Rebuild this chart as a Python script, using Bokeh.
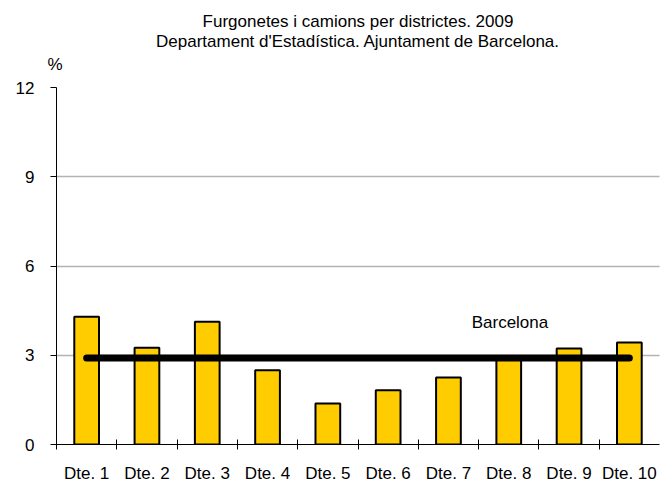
from bokeh.plotting import figure
from bokeh.models import Range1d, FixedTicker, CustomJSTickFormatter, Label, Title
from bokeh.embed import file_html
from bokeh.resources import INLINE

categories = ["Dte. 1", "Dte. 2", "Dte. 3", "Dte. 4", "Dte. 5",
              "Dte. 6", "Dte. 7", "Dte. 8", "Dte. 9", "Dte. 10"]
values = [4.29, 3.25, 4.13, 2.50, 1.38, 1.82, 2.25, 2.93, 3.23, 3.43]
barcelona = 2.91
y_ticks = [0, 3, 6, 9, 12]
title_lines = ["Furgonetes i camions per districtes. 2009",
               "Departament d'Estadística. Ajuntament de Barcelona."]

FONT = "Liberation Sans"
FS = "17px"

n = len(categories)
centers = [i + 0.5 for i in range(n)]

p = figure(width=660, height=486, output_backend="svg", toolbar_location=None,
           x_range=Range1d(0, n), y_range=Range1d(0, 12),
           min_border_left=56, min_border_right=1, min_border_top=87,
           min_border_bottom=42)
p.outline_line_color = None
p.background_fill_color = "white"
p.border_fill_color = "white"

# main title (outermost): first title line
p.title.text = title_lines[0]
p.title.align = "center"
p.title.offset = -8
p.title.text_font = FONT
p.title.text_font_size = FS
p.title.text_font_style = "normal"
p.title.text_color = "black"
p.title.standoff = 18
# closest to frame: "%" ; then the second title line
p.add_layout(Title(text="%", align="left", offset=-9, text_font=FONT,
                   text_font_size=FS, text_font_style="normal",
                   text_color="black", standoff=27), "above")
p.add_layout(Title(text=title_lines[1], align="center", text_font=FONT,
                   text_font_size=FS, text_font_style="normal",
                   text_color="black", standoff=-23), "above")

# grid
p.xgrid.visible = False
p.ygrid.ticker = FixedTicker(ticks=[t for t in y_ticks if t > 0])
p.ygrid.grid_line_color = "#666666"
p.ygrid.grid_line_dash = "1 1"
p.ygrid.grid_line_width = 1.5

# bars
p.vbar(x=centers, top=values, width=0.41, bottom=0,
       fill_color="#FFCC00", line_color="black", line_width=2)

# Barcelona line
p.line(x=[centers[0], centers[-1]], y=[barcelona, barcelona],
       line_color="black", line_width=7, line_cap="round")

p.add_layout(Label(x=7.52, y=4.11, text="Barcelona", text_font=FONT,
                   text_font_size=FS, text_align="center",
                   text_baseline="middle", text_color="black"))

# y axis
yax = p.yaxis[0]
yax.ticker = FixedTicker(ticks=y_ticks)
yax.axis_line_color = "black"
yax.major_tick_line_color = "black"
yax.major_tick_out = 6
yax.major_tick_in = 0
yax.minor_tick_line_color = None
yax.major_label_standoff = 16
yax.major_label_text_font = FONT
yax.major_label_text_font_size = FS
yax.major_label_text_color = "black"

# x axis
xax = p.xaxis[0]
xax.ticker = FixedTicker(ticks=centers, minor_ticks=list(range(n)))
xax.formatter = CustomJSTickFormatter(args=dict(labels=categories),
                                      code="return labels[Math.floor(tick)];")
xax.axis_line_color = "black"
xax.major_tick_line_color = None
xax.major_tick_out = 0
xax.major_tick_in = 0
xax.minor_tick_line_color = "black"
xax.minor_tick_in = 5
xax.minor_tick_out = 5
xax.major_label_standoff = 14
xax.major_label_text_font = FONT
xax.major_label_text_font_size = FS
xax.major_label_text_color = "black"

open("out.html", "w").write(file_html(p, INLINE))
